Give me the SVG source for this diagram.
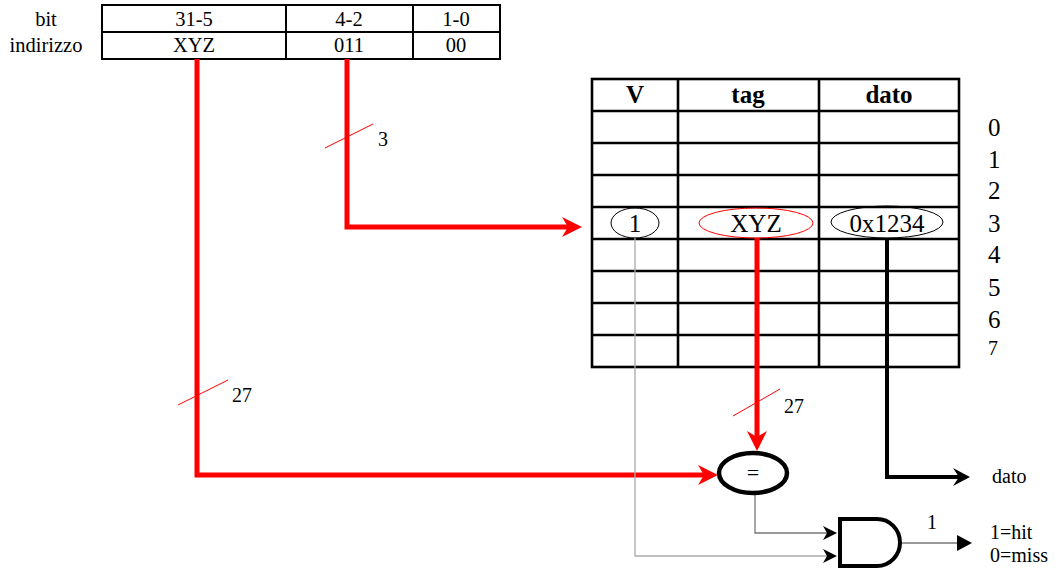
<svg xmlns="http://www.w3.org/2000/svg" width="1055" height="571" viewBox="0 0 1055 571">
<style>
text{font-family:"Liberation Serif","Times New Roman","DejaVu Serif",serif;fill:#000}
.t19{font-size:20.5px}
.t17{font-size:20px}
.t25{font-size:25px}
.hdr{font-size:25px;font-weight:bold}
.c{text-anchor:middle}
.grid{fill:none;stroke:#000;stroke-width:2}
.grid2{fill:none;stroke:#000;stroke-width:2.6}
.red{fill:none;stroke:#ff0000;stroke-width:5}
.tick{stroke:#ff0000;stroke-width:1}
</style>
<defs>
<marker id="ar" markerUnits="userSpaceOnUse" markerWidth="24" markerHeight="24" viewBox="-22 -12 24 24" refX="-13" refY="0" orient="auto">
<path d="M0,0 L-20,-10 L-14,0 L-20,10 Z" fill="#ff0000"/>
</marker>
<marker id="ab" markerUnits="userSpaceOnUse" markerWidth="22" markerHeight="22" viewBox="-20 -11 22 22" refX="-10" refY="0" orient="auto">
<path d="M0,0 L-17,-9 L-11,0 L-17,9 Z" fill="#000"/>
</marker>
<marker id="as" markerUnits="userSpaceOnUse" markerWidth="18" markerHeight="18" viewBox="-16 -9 18 18" refX="-9" refY="0" orient="auto">
<path d="M0,0 L-14,-7 L-10,0 L-14,7 Z" fill="#000"/>
</marker>
<marker id="at" markerUnits="userSpaceOnUse" markerWidth="18" markerHeight="18" viewBox="-17 -9 18 18" refX="-14" refY="0" orient="auto">
<path d="M0,0 L-15,-8 L-15,8 Z" fill="#000"/>
</marker>
</defs>

<g id="address">
<rect class="grid" x="102" y="5" width="398" height="54"/>
<line class="grid" x1="102" y1="32" x2="500" y2="32"/>
<line class="grid" x1="286" y1="5" x2="286" y2="59"/>
<line class="grid" x1="413" y1="5" x2="413" y2="59"/>
<text class="t19 c" x="46" y="26">bit</text>
<text class="t19 c" x="46" y="52">indirizzo</text>
<text class="t19 c" x="194" y="26">31-5</text>
<text class="t19 c" x="349" y="26">4-2</text>
<text class="t19 c" x="456" y="26">1-0</text>
<text class="t19 c" x="194" y="52">XYZ</text>
<text class="t19 c" x="349" y="52">011</text>
<text class="t19 c" x="456" y="52">00</text>
</g>

<g id="cache">
<rect class="grid2" x="592" y="79" width="367" height="288"/>
<path class="grid2" d="M592,111H959M592,143H959M592,175H959M592,207H959M592,239H959M592,271H959M592,303H959M592,335H959M678,79V367M819,79V367"/>
<text class="hdr c" x="635" y="103">V</text>
<text class="hdr c" x="748" y="103">tag</text>
<text class="hdr c" x="889" y="103">dato</text>
<ellipse cx="635" cy="223" rx="24" ry="15" fill="none" stroke="#000" stroke-width="1"/>
<ellipse cx="756" cy="223" rx="57" ry="15" fill="none" stroke="#ff0000" stroke-width="1"/>
<ellipse cx="887" cy="222" rx="56" ry="16" fill="none" stroke="#000" stroke-width="1"/>
<text class="t25 c" x="635" y="232">1</text>
<text class="t25 c" x="756" y="232">XYZ</text>
<text class="t25 c" x="887" y="232">0x1234</text>
<text class="t25" x="988" y="136">0</text>
<text class="t25" x="988" y="168">1</text>
<text class="t25" x="988" y="199">2</text>
<text class="t25" x="988" y="232">3</text>
<text class="t25" x="988" y="263">4</text>
<text class="t25" x="988" y="296">5</text>
<text class="t25" x="988" y="328">6</text>
<text x="988" y="355" style="font-size:20px">7</text>
</g>

<g id="connectors">
<polyline class="red" points="347,59 347,227 569,227" marker-end="url(#ar)"/>
<polyline class="red" points="197,59 197,475 705,475" marker-end="url(#ar)"/>
<polyline class="red" points="757,238 757,438" marker-end="url(#ar)"/>
<polyline fill="none" stroke="#000" stroke-width="4" points="887,238 887,477 960,477" marker-end="url(#ab)"/>
<polyline fill="none" stroke="#aaa" stroke-width="1.3" points="635,238 635,556 828,556" marker-end="url(#as)"/>
<polyline fill="none" stroke="#777" stroke-width="1.3" points="755,494 755,533 828,533" marker-end="url(#as)"/>
<line x1="900" y1="543" x2="958" y2="543" stroke="#777" stroke-width="1.3" marker-end="url(#at)"/>
<line class="tick" x1="325" y1="148" x2="373" y2="124"/>
<line class="tick" x1="178" y1="405" x2="228" y2="380"/>
<line class="tick" x1="733" y1="416" x2="780" y2="389"/>
</g>

<g id="labels">
<text class="t17" x="378" y="146">3</text>
<text class="t17" x="232" y="402">27</text>
<text class="t17" x="784" y="413">27</text>
<text class="t17" x="992" y="483">dato</text>
<text class="t17" x="927" y="529">1</text>
<text class="t17" x="990" y="539">1=hit</text>
<text class="t17" x="990" y="562">0=miss</text>
</g>

<g id="comparator">
<ellipse cx="753" cy="473" rx="34" ry="20" fill="#fff" stroke="#000" stroke-width="4.5"/>
<text class="c" x="753" y="480" style="font-size:22px">=</text>
</g>

<g id="and-gate">
<path d="M840,519 H877 A23,23.5 0 0 1 877,566 H840 Z" fill="#fff" stroke="#000" stroke-width="4"/>
</g>
</svg>
